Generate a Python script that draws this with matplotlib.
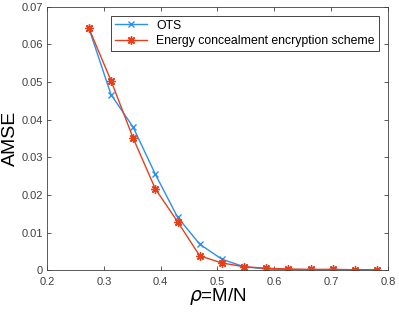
import matplotlib.pyplot as plt

# compression ratio rho = M/N, N = 256
rho = [70/256, 80/256, 90/256, 100/256, 110/256, 120/256, 130/256,
       140/256, 150/256, 160/256, 170/256, 180/256, 190/256, 200/256]
amse_ots = [0.0644, 0.0467, 0.0380, 0.0255, 0.0141, 0.0069, 0.0029,
            0.0009, 0.0003, 0.0001, 0.0001, 0.0001, 0.0001, 0.0001]
amse_energy = [0.0644, 0.0504, 0.0351, 0.0216, 0.0129, 0.0038, 0.0019,
               0.0009, 0.0005, 0.0003, 0.0002, 0.0002, 0.0001, 0.0001]

plt.rcParams['font.family'] = ['Liberation Sans', 'DejaVu Sans']

fig = plt.figure(figsize=(3.99, 3.13), dpi=100)
ax = fig.add_axes([0.118, 0.137, 0.854, 0.841])

ax.plot(rho, amse_ots, color='#2b8ff0', marker='x', markersize=5, lw=1.0,
        label='OTS')
ax.plot(rho, amse_energy, color='#e4411b', marker=(8, 2, 0), markersize=6,
        lw=1.0, label='Energy concealment encryption scheme')

ax.set_xlim(0.2, 0.8)
ax.set_ylim(0, 0.07)
ax.set_xticks([0.2, 0.3, 0.4, 0.5, 0.6, 0.7, 0.8])
ax.set_yticks([0, 0.01, 0.02, 0.03, 0.04, 0.05, 0.06, 0.07])
ax.set_xticklabels(['0.2', '0.3', '0.4', '0.5', '0.6', '0.7', '0.8'])
ax.set_yticklabels(['0', '0.01', '0.02', '0.03', '0.04', '0.05', '0.06', '0.07'])
ax.tick_params(direction='in', top=True, right=True, labelsize=8,
               length=3, width=0.6, colors='#404040')
ax.tick_params(axis='x', pad=5)
ax.tick_params(axis='y', pad=3)
for s in ax.spines.values():
    s.set_color('#404040')
    s.set_linewidth(0.6)

ax.set_xlabel(r'$\rho$=M/N', fontsize=13.5, labelpad=-1)
ax.set_ylabel('AMSE', fontsize=14, labelpad=2)

leg = ax.legend(loc='upper right', bbox_to_anchor=(0.98, 0.975), fontsize=8.8,
                fancybox=False, framealpha=1, edgecolor='#262626',
                borderpad=0.3, labelspacing=0.3, handlelength=2.6,
                borderaxespad=0.2)
leg.get_frame().set_linewidth(0.6)

fig.savefig('out.png', dpi=100)
